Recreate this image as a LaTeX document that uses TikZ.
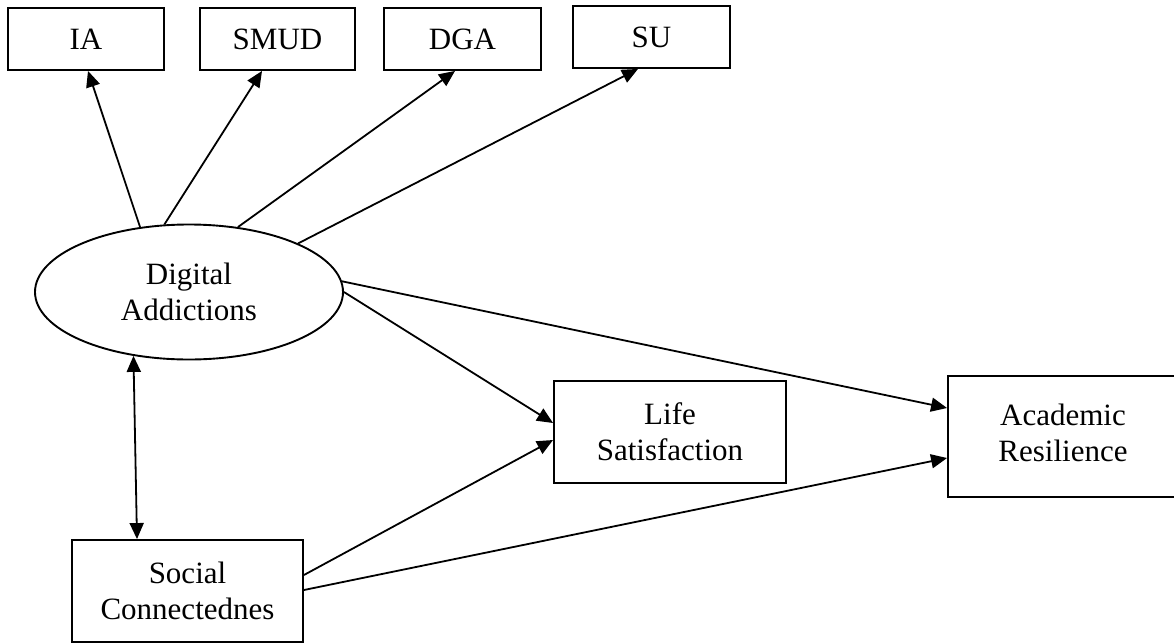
\documentclass[tikz,border=0pt]{standalone}
\usepackage{fontspec}
\setmainfont{Liberation Serif}
\usetikzlibrary{arrows.meta,shapes.geometric}
\begin{document}
\begin{tikzpicture}[x=1pt,y=-1pt,
  every node/.style={font=\fontsize{31}{36}\selectfont, align=center, inner sep=0pt},
  box/.style={draw, line width=1.9pt, rectangle},
  latent/.style={draw, line width=1.9pt, ellipse},
  path/.style={line width=1.8pt, -{Triangle[length=16pt,width=14pt]}},
  bipath/.style={line width=1.8pt, {Triangle[length=16pt,width=14pt]}-{Triangle[length=16pt,width=14pt]}}]
\useasboundingbox (0,0) rectangle (1174,643);
\node[box, minimum width=156pt, minimum height=62pt] (ia) at (86,39) {IA};
\node[box, minimum width=155pt, minimum height=62pt] (smud) at (277.5,39) {SMUD};
\node[box, minimum width=157pt, minimum height=62pt] (dga) at (462.5,39) {DGA};
\node[box, minimum width=157pt, minimum height=62pt] (su) at (651.5,37) {SU};
\node[latent, minimum width=308pt, minimum height=135pt] (da) at (189,292) {Digital\\Addictions};
\node[box, minimum width=232pt, minimum height=102pt] (ls) at (670,432) {Life\\Satisfaction};
\node[box, minimum width=230pt, minimum height=121pt] (ar) at (1063,436.5) {\raisebox{-8pt}{\begin{tabular}{@{}c@{}}Academic\\Resilience\end{tabular}}};
\node[box, minimum width=231pt, minimum height=102pt] (sc) at (187.5,591) {Social\\Connectednes};
\draw[path] (da.127.8) -- ([xshift=2pt]ia.south);
\draw[path] (da.110) -- ([xshift=-15.5pt]smud.south);
\draw[path] (da.53.8) -- ([xshift=-7.5pt]dga.south);
\draw[path] (da.24.2) -- ([xshift=-13.5pt]su.south);
\draw[path] (da.4.6) -- ([yshift=28.5pt]ar.west);
\draw[path] (da.0) -- ([yshift=9pt]ls.west);
\draw[path] ([yshift=16pt]sc.east) -- ([yshift=-8pt]ls.west);
\draw[path] ([yshift=1pt]sc.east) -- ([yshift=-21.5pt]ar.west);
\draw[bipath] (da.229.7) -- ([xshift=-50.5pt]sc.north);
\end{tikzpicture}
\end{document}
